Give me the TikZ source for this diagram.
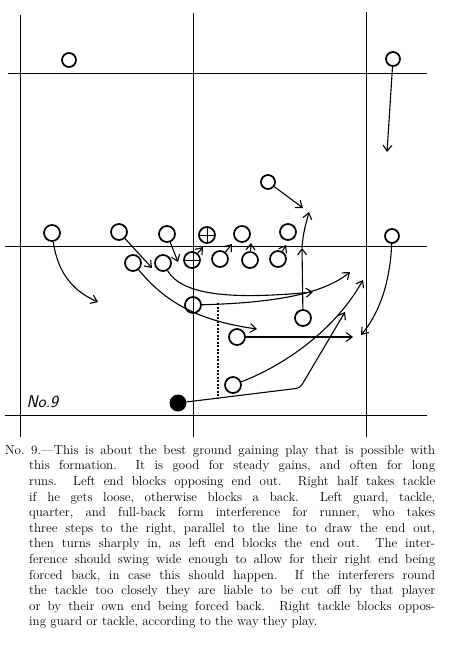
\documentclass[tikz,border=0pt]{standalone}
\usepackage{tikz}
\usetikzlibrary{arrows.meta}

\begin{document}
\frenchspacing
\begin{tikzpicture}[x=1pt,y=-1pt,
  grid/.style={line width=1pt},
  man/.style={draw, circle, line width=1.7pt, inner sep=0pt, minimum size=16pt},
  far/.style={man, minimum size=14pt},
  plusman/.style={man, path picture={\draw[line width=1pt] (path picture bounding box.north) -- (path picture bounding box.south) (path picture bounding box.west) -- (path picture bounding box.east);}},
  minusman/.style={man, path picture={\draw[line width=1pt] (path picture bounding box.west) -- (path picture bounding box.east);}},
  runner/.style={circle, fill, inner sep=0pt, minimum size=17pt},
  arr/.style={line width=1.1pt, -{Straight Barb[length=6pt,width=9pt]}},
  path/.style={line width=1.1pt}]
\useasboundingbox (0,0) rectangle (450,647);
%
\draw[grid] (20,15) -- (20,437);
\draw[grid] (193,13) -- (193,437);
\draw[grid] (366,12) -- (366,437);
\draw[grid] (8,74) -- (427,74);
\draw[grid] (5,246) -- (427,246);
\draw[grid] (5,415) -- (427,415);
%
\node[far] (sl) at (69,60) {};
\node[far] (sr) at (393,59) {};
\node[far] (lb) at (268,182) {};
%
\node[man] (d1) at (52,233) {};
\node[man] (d2) at (119,232) {};
\node[man] (d3) at (167,234) {};
\node[plusman] (dc) at (207,235) {};
\node[man] (d5) at (242,234) {};
\node[man] (d6) at (288,232) {};
\node[far] (d7) at (392,236) {};
%
\node[man] (lt) at (133,263) {};
\node[man] (lg) at (163,263) {};
\node[minusman] (c) at (192,260) {};
\node[man] (rg) at (220,259) {};
\node[man] (rt) at (250,260) {};
\node[man] (re) at (278,259) {};
%
\node[man] (qb) at (193,305) {};
\node[man] (rh) at (303,318) {};
\node[man] (fb) at (237,337) {};
\node[man] (lh) at (233,385) {};
\node[runner] (ball) at (178,403) {};
%
\coordinate (hole) at (302,248);
\coordinate (turn) at (300,388);
\coordinate (cut) at (218,303);
\coordinate (cutb) at (218,398);
%
\draw[arr] (sr) -- (387,152);
\draw[arr] (lb) -- (303,208);
\draw[arr] (d1) .. controls (58,275) and (75,292) .. (98,302);
\draw[arr] (d2) -- (152,268);
\draw[arr] (d3) -- (178,262);
\draw[arr] (d7) .. controls (390,285) and (378,315) .. (361,335);
%
\draw[arr] (c) -- (203,247);
\draw[arr] (rg) -- (232,244);
\draw[arr] (rt) -- (251,243);
\draw[arr] (re) -- (286,245);
%
\draw[arr] (rh) -- (hole);
\draw[arr] (hole) .. controls (303,232) and (306,224) .. (309,212);
\draw[arr] (lt) .. controls (162,298) and (192,320) .. (257,329);
\draw[arr] (lg) .. controls (182,295) and (230,300) .. (313,292);
\draw[arr] (qb) .. controls (270,303) and (322,295) .. (350,272);
\draw[arr] (fb) -- (353,337);
\draw[arr] (lh) .. controls (285,365) and (335,330) .. (363,280);
\draw[arr, rounded corners=4pt] (ball) -- (turn) -- (345,312);
\draw[path, dash pattern=on 2pt off 1.5pt] (cut) -- (cutb);
%
\node[anchor=west, font=\sffamily\itshape\fontsize{17}{17}\selectfont] (num) at (23,402) {No.9};
%
\node[anchor=north west, inner sep=0pt, align=left, font=\fontsize{13}{15.6}\selectfont] (note) at (5,445) {%
\makebox[430pt][s]{No. 9.---This is about the best ground gaining play that is possible with}\\
\hspace*{24pt}\makebox[406pt][s]{this formation.\ \ It is good for steady gains, and often for long}\\
\hspace*{24pt}\makebox[406pt][s]{runs.\ \ Left end blocks opposing end out.\ \ Right half takes tackle}\\
\hspace*{24pt}\makebox[406pt][s]{if he gets loose, otherwise blocks a back.\ \ Left guard, tackle,}\\
\hspace*{24pt}\makebox[406pt][s]{quarter, and full-back form interference for runner, who takes}\\
\hspace*{24pt}\makebox[406pt][s]{three steps to the right, parallel to the line to draw the end out,}\\
\hspace*{24pt}\makebox[406pt][s]{then turns sharply in, as left end blocks the end out.\ \ The inter-}\\
\hspace*{24pt}\makebox[406pt][s]{ference should swing wide enough to allow for their right end being}\\
\hspace*{24pt}\makebox[406pt][s]{forced back, in case this should happen.\ \ If the interferers round}\\
\hspace*{24pt}\makebox[406pt][s]{the tackle too closely they are liable to be cut off by that player}\\
\hspace*{24pt}\makebox[406pt][s]{or by their own end being forced back.\ \ Right tackle blocks oppos-}\\
\hspace*{24pt}ing guard or tackle, according to the way they play.};
\end{tikzpicture}
\end{document}
